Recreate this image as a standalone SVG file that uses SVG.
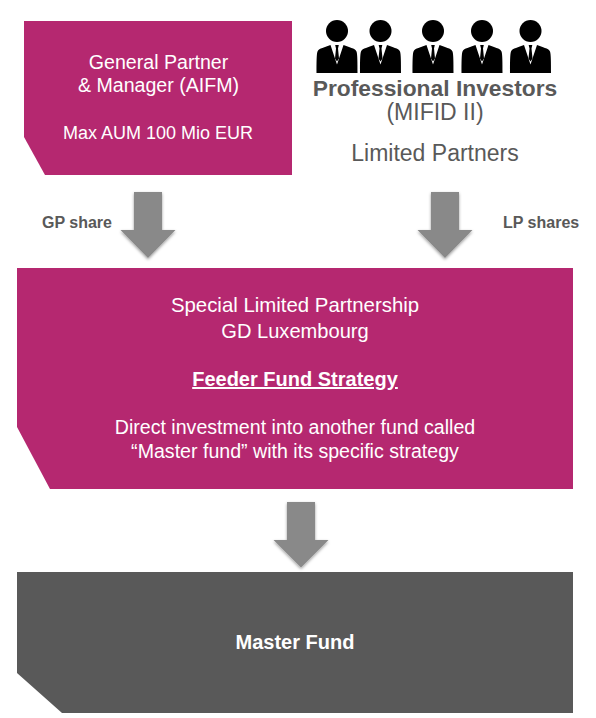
<svg xmlns="http://www.w3.org/2000/svg" width="596" height="718" viewBox="0 0 596 718">
<style>
text{font-family:"Liberation Sans",Arial,sans-serif}
.w{fill:#fff;font-size:19.600px;text-anchor:middle}
.g{fill:#595959}
.m{text-anchor:middle}
.b{font-weight:bold}
.arrow{fill:#898989;filter:url(#sh)}
</style>
<defs>
<filter id="sh" x="-20%" y="-20%" width="140%" height="140%">
<feDropShadow dx="0" dy="1.5" stdDeviation="1.5" flood-color="#000" flood-opacity="0.4"/>
</filter>
<symbol id="person" overflow="visible">
<circle cx="0" cy="10.500" r="11" fill="#000"/>
<path d="M-6.500 24.500 C-12 27 -18 27.500 -19.500 31 C-20.500 33.500 -20.500 43 -20.500 52.500 L20.500 52.500 C20.500 43 20.500 33.500 19.500 31 C18 27.500 12 27 6.500 24.500 L0 44 Z" fill="#000"/>
<path d="M-1.800 24.500 L1.800 24.500 L1 28 L2 38 L0 41 L-2 38 L-1 28 Z" fill="#000"/>
</symbol>
</defs>
<g id="gp-node">
<path d="M24 21H292V175H45L24 137Z" fill="#b52870"/>
<text class="w" x="158.500" y="68.500">General Partner</text>
<text class="w" x="158.500" y="92">&amp; Manager (AIFM)</text>
<text x="158" y="139" fill="#fff" font-size="18px" text-anchor="middle">Max AUM 100 Mio EUR</text>
</g>
<g id="investors-node">
<use href="#person" x="337" y="20.500"/>
<use href="#person" x="380.500" y="20.500"/>
<use href="#person" x="433" y="20.500"/>
<use href="#person" x="482" y="20.500"/>
<use href="#person" x="530.500" y="20.500"/>
<text class="g m b" x="435" y="96" font-size="22.800">Professional Investors</text>
<text class="g m" x="435" y="119.500" font-size="23">(MIFID II)</text>
<text class="g m" x="435" y="161" font-size="23">Limited Partners</text>
</g>
<g id="connectors">
<path class="arrow" d="M134 192H162V230H175.500L148 258L120.500 230H134Z"/>
<path class="arrow" d="M431 192H459V230H472.500L445 258L417.500 230H431Z"/>
<path class="arrow" d="M287 502H315V540H328.500L301 567.500L273.500 540H287Z"/>
<text class="g b" x="42" y="227.500" font-size="16">GP share</text>
<text class="g b" x="503" y="227.500" font-size="16">LP shares</text>
</g>
<g id="feeder-node">
<path d="M17 268H573V489H50L17 427Z" fill="#b52870"/>
<text class="w" x="295" y="312" font-size="20.400" style="font-size:20.400px">Special Limited Partnership</text>
<text class="w" x="295" y="338" style="font-size:20.100px">GD Luxembourg</text>
<text class="w b" x="295" y="386" text-decoration="underline" style="font-size:20px">Feeder Fund Strategy</text>
<text class="w" x="295" y="434">Direct investment into another fund called</text>
<text class="w" x="295" y="458">“Master fund” with its specific strategy</text>
</g>
<g id="master-node">
<path d="M17 572H573V713H62L17 673Z" fill="#595959"/>
<text class="w b" x="295" y="649" style="font-size:20px">Master Fund</text>
</g>
</svg>
